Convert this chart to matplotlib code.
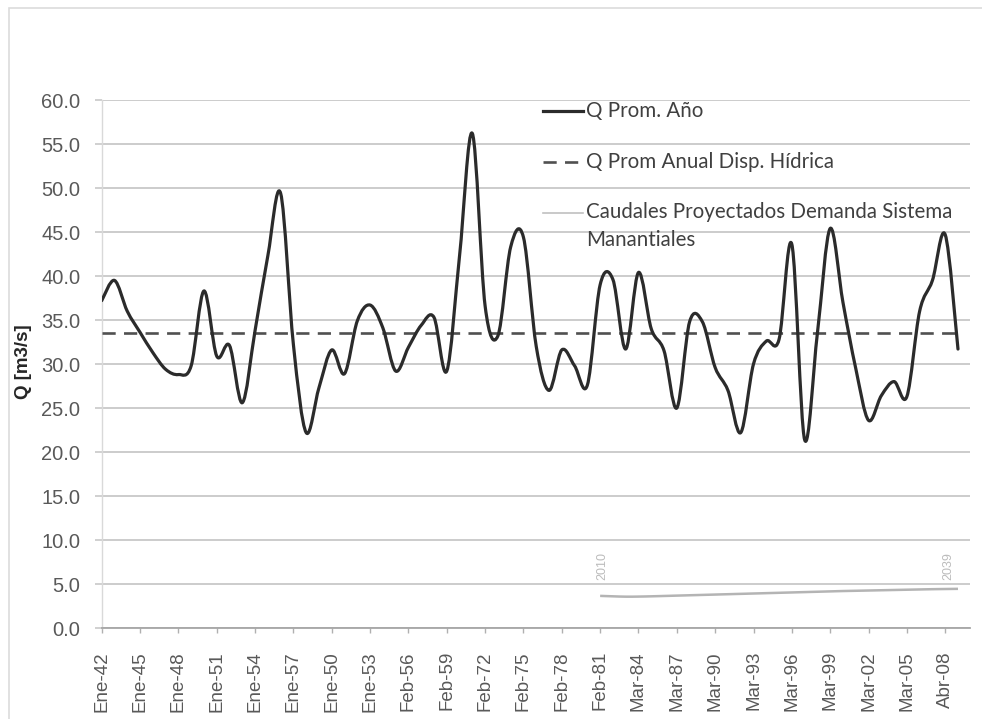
import matplotlib
matplotlib.use("Agg")
import matplotlib.pyplot as plt
from matplotlib.path import Path
from matplotlib.patches import PathPatch, Rectangle
from matplotlib.lines import Line2D

# ---------------- data ----------------
tick_labels = ["Ene-42", "Ene-45", "Ene-48", "Ene-51", "Ene-54", "Ene-57", "Ene-50",
               "Ene-53", "Feb-56", "Feb-59", "Feb-72", "Feb-75", "Feb-78", "Feb-81",
               "Mar-84", "Mar-87", "Mar-90", "Mar-93", "Mar-96", "Mar-99", "Mar-02",
               "Mar-05", "Abr-08"]

q_prom_anio = [37.2, 39.5, 36.0, 33.6, 31.3, 29.4, 28.8, 29.8, 38.3, 30.9,
               32.1, 25.6, 33.8, 42.3, 49.4, 32.2, 22.2, 27.3, 31.6, 28.9,
               34.9, 36.7, 34.1, 29.2, 31.9, 34.4, 35.3, 29.2, 42.3, 56.2,
               36.6, 33.2, 43.3, 44.4, 32.0, 27.0, 31.6, 29.8, 27.6, 39.0,
               39.6, 31.7, 40.4, 34.0, 31.5, 25.0, 34.8, 34.8, 29.6, 27.0,
               22.2, 30.0, 32.6, 32.8, 43.6, 21.4, 33.5, 45.4, 37.0, 29.5,
               23.6, 26.4, 28.0, 26.3, 36.0, 39.5, 44.7, 31.7]

q_disp_hidrica = 33.5

demanda_start_index = 39
demanda = [3.65, 3.60, 3.56, 3.57, 3.60, 3.64, 3.68, 3.72, 3.76, 3.80,
           3.84, 3.88, 3.92, 3.96, 4.00, 4.04, 4.08, 4.12, 4.16, 4.20,
           4.23, 4.26, 4.29, 4.32, 4.35, 4.38, 4.41, 4.43, 4.45]
demanda_labels = ["2010", "2039"]

legend_labels = ["Q Prom. Año", "Q Prom Anual Disp. Hídrica",
                 "Caudales Proyectados Demanda Sistema\nManantiales"]


def smooth_path(xs, ys):
    """Excel-like smoothed line as cubic Bezier segments (Catmull-Rom)."""
    pts = list(zip(xs, ys))
    n = len(pts)
    verts = [pts[0]]
    codes = [Path.MOVETO]
    for i in range(n - 1):
        p0 = pts[i - 1] if i > 0 else pts[i]
        p1 = pts[i]
        p2 = pts[i + 1]
        p3 = pts[i + 2] if i + 2 < n else pts[i + 1]
        c1 = (p1[0] + (p2[0] - p0[0]) / 6.0, p1[1] + (p2[1] - p0[1]) / 6.0)
        c2 = (p2[0] - (p3[0] - p1[0]) / 6.0, p2[1] - (p3[1] - p1[1]) / 6.0)
        verts += [c1, c2, p2]
        codes += [Path.CURVE4] * 3
    return Path(verts, codes)


plt.rcParams["lines.scale_dashes"] = False

W, H = 982, 719
fig = plt.figure(figsize=(W / 100, H / 100), dpi=100)
fig.patch.set_facecolor("white")

# chart area border (faint)
fig.patches.append(Rectangle((9 / W, -0.05), 1.2, 1 - 8 / H + 0.05,
                             transform=fig.transFigure, fill=False,
                             edgecolor="#dcdcdc", linewidth=1.2))

left, right, top, bottom = 101.7, 970, 100, 628
ax = fig.add_axes([left / W, 1 - bottom / H, (right - left) / W, (bottom - top) / H])

n = len(q_prom_anio)
xs = list(range(n))

# main smoothed series
ax.add_patch(PathPatch(smooth_path(xs, q_prom_anio), fill=False,
                       edgecolor="#2b2b2b", linewidth=2.3, capstyle="round",
                       joinstyle="round", zorder=4))

# dashed average
ax.plot([xs[0], xs[-1]], [q_disp_hidrica, q_disp_hidrica], color="#505050",
        linewidth=1.9, dashes=(9.5, 6.0), zorder=3)

# demand projection
dx = list(range(demanda_start_index, demanda_start_index + len(demanda)))
ax.add_patch(PathPatch(smooth_path(dx, demanda), fill=False,
                       edgecolor="#b4b4b4", linewidth=1.8, zorder=3))
ax.text(dx[0] + 0.2, 5.5, demanda_labels[0], rotation=90, ha="center", va="bottom",
        fontsize=9, color="#bcbcbc", family="Liberation Sans")
ax.text(dx[-1] - 0.75, 5.5, demanda_labels[1], rotation=90, ha="center", va="bottom",
        fontsize=9, color="#bcbcbc", family="Liberation Sans")

# axes styling
ax.set_xlim(0, 67.94)
ax.set_ylim(0, 60)
ax.set_yticks([i * 5 for i in range(13)])
ax.set_yticklabels([f"{i * 5:.1f}" for i in range(13)])
ax.set_xticks(list(range(0, 3 * len(tick_labels), 3)))
ax.set_xticklabels(tick_labels, rotation=90)

ax.yaxis.grid(True, color="#c8c8c8", linewidth=1.3)
ax.set_axisbelow(True)
for s in ["top", "right"]:
    ax.spines[s].set_visible(False)
ax.spines["left"].set_color("#d9d9d9")
ax.spines["left"].set_linewidth(1.0)
ax.spines["bottom"].set_color("#a6a6a6")
ax.spines["bottom"].set_linewidth(1.3)

ax.tick_params(axis="y", direction="out", length=4.8, width=1.2, color="#c8c8c8",
               pad=10.5, labelsize=14.5, labelcolor="#595959")
ax.tick_params(axis="x", direction="out", length=3.6, width=1.0, color="#b0b0b0",
               pad=13, labelsize=13.5, labelcolor="#595959")
for lab in ax.get_xticklabels() + ax.get_yticklabels():
    lab.set_family("Liberation Sans")

fig.text(24 / W, 1 - 362 / H, "Q [m3/s]", rotation=90, ha="center", va="center",
         fontsize=13.5, fontweight="bold", color="#262626", family="Liberation Sans")

# legend (drawn manually, Excel-style: handle aligned to first text line)
leg_y = [111, 162, 213]
leg_styles = [dict(color="#2b2b2b", linewidth=2.3),
              dict(color="#505050", linewidth=1.9, dashes=(9.5, 6.0)),
              dict(color="#c0c0c0", linewidth=1.2)]
for yy, lab, st in zip(leg_y, legend_labels, leg_styles):
    yf = 1 - yy / H
    fig.add_artist(Line2D([543 / W, 583 / W], [yf, yf], transform=fig.transFigure, **st))
    if "\n" in lab:
        fig.text(586 / W, 1 - (yy - 11) / H, lab, ha="left", va="top",
                 fontsize=14.8, color="#404040", family="Lato", linespacing=1.5)
    else:
        fig.text(586 / W, yf, lab, ha="left", va="center",
                 fontsize=14.8, color="#404040", family="Lato")

fig.savefig("out.png", dpi=100, facecolor="white")
